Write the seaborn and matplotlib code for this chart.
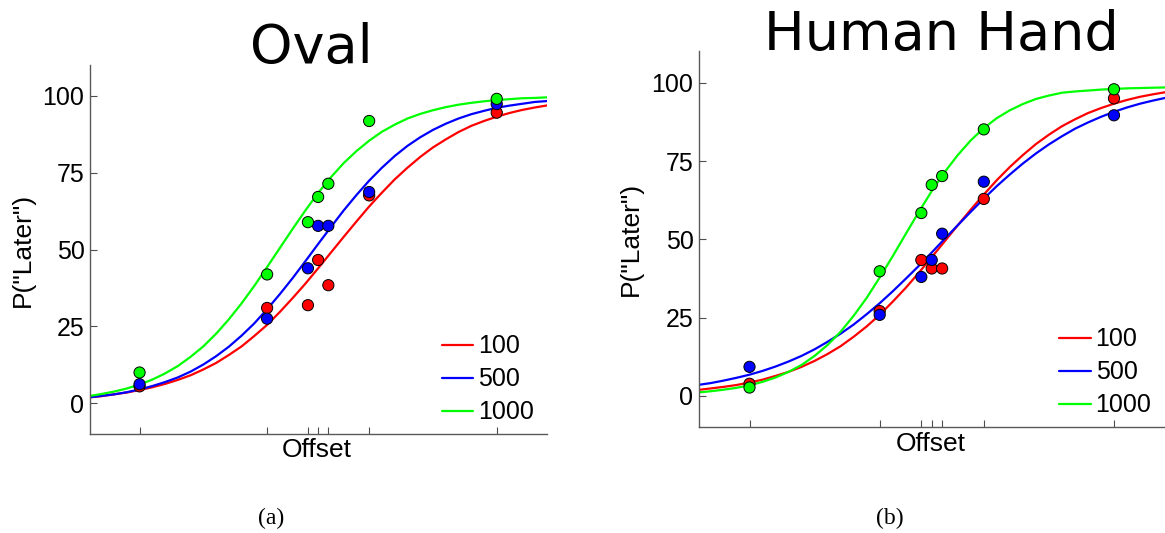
import numpy as np
import pandas as pd
import seaborn as sns
import matplotlib.pyplot as plt

# SOA conditions and the stimulus offsets (ms) that were tested
conditions = ["100", "500", "1000"]
offsets = [-350, -100, -20, 0, 20, 100, 350]

oval_pts_100 = [5.5, 31.0, 31.9, 46.6, 38.4, 67.6, 94.5]
oval_pts_500 = [6.2, 27.5, 43.9, 57.7, 57.7, 68.7, 97.3]
oval_pts_1000 = [10.0, 41.9, 58.9, 67.1, 71.4, 91.8, 99.0]
hand_pts_100 = [3.9, 27.1, 43.4, 40.7, 40.7, 62.9, 95.0]
hand_pts_500 = [9.3, 25.9, 38.0, 43.4, 51.8, 68.4, 89.6]
hand_pts_1000 = [2.7, 39.8, 58.4, 67.4, 70.2, 85.1, 97.9]

# fitted psychometric curves, every 25 ms from -450 to 450
curve_x = list(range(-450, 451, 25))
oval_fit_100 = [1.9, 2.3, 2.9, 3.5, 4.3, 5.2, 6.3, 7.6, 9.1, 11.0, 13.1, 15.7,
                18.5, 21.9, 25.5, 29.7, 34.2, 38.9, 43.9, 49.0, 54.1, 59.1,
                64.0, 68.5, 72.8, 76.6, 80.1, 83.2, 85.8, 88.2, 90.2, 91.8,
                93.2, 94.4, 95.4, 96.2, 96.9]
oval_fit_500 = [1.9, 2.4, 2.9, 3.6, 4.5, 5.6, 6.9, 8.4, 10.3, 12.6, 15.3, 18.4,
                22.0, 26.0, 30.6, 35.5, 40.7, 46.2, 51.8, 57.3, 62.7, 67.7,
                72.4, 76.6, 80.4, 83.7, 86.5, 88.9, 90.9, 92.6, 94.0, 95.1,
                96.1, 96.8, 97.4, 98.0, 98.3]
oval_fit_1000 = [2.3, 3.0, 3.8, 4.8, 6.1, 7.7, 9.7, 12.1, 15.1, 18.5, 22.6, 27.3,
                 32.5, 38.2, 44.3, 50.5, 56.7, 62.7, 68.4, 73.5, 78.1, 82.0,
                 85.4, 88.3, 90.6, 92.6, 94.1, 95.3, 96.3, 97.1, 97.7, 98.2,
                 98.6, 98.9, 99.2, 99.3, 99.5]
hand_fit_100 = [1.9, 2.4, 2.9, 3.5, 4.3, 5.2, 6.4, 7.7, 9.3, 11.2, 13.4, 15.9,
                18.9, 22.2, 25.9, 30.1, 34.5, 39.3, 44.3, 49.4, 54.5, 59.5,
                64.3, 68.9, 73.1, 76.9, 80.4, 83.4, 86.1, 88.3, 90.3, 91.9,
                93.3, 94.5, 95.5, 96.3, 97.0]
hand_fit_500 = [3.5, 4.1, 4.9, 5.8, 6.8, 8.0, 9.4, 11.0, 12.8, 14.9, 17.3, 19.9,
                22.8, 26.1, 29.6, 33.4, 37.4, 41.5, 45.8, 50.2, 54.5, 58.8,
                63.0, 67.0, 70.7, 74.2, 77.4, 80.3, 82.9, 85.3, 87.3, 89.1,
                90.7, 92.1, 93.3, 94.3, 95.2]
hand_fit_1000 = [1.1, 1.5, 2.0, 2.6, 3.4, 4.5, 5.9, 7.7, 9.9, 12.8, 16.3, 20.5,
                 25.6, 31.3, 37.8, 44.6, 51.7, 58.7, 65.4, 71.5, 76.9, 81.6,
                 85.5, 88.7, 91.2, 93.2, 94.8, 95.9, 96.8, 97.2, 97.5, 97.8,
                 98.0, 98.2, 98.3, 98.4, 98.5]

titles = ["Oval", "Human Hand"]
panel_tags = ["(a)", "(b)"]
yticks = [0, 25, 50, 75, 100]
colors = {"100": "#ff0000", "500": "#0000ff", "1000": "#00ff00"}


def long_table(xs, series):
    frames = []
    for cond, ys in zip(conditions, series):
        frames.append(pd.DataFrame({"offset": xs, "p": ys, "cond": cond}))
    return pd.concat(frames, ignore_index=True)


panels = [
    (long_table(curve_x, [oval_fit_100, oval_fit_500, oval_fit_1000]),
     long_table(offsets, [oval_pts_100, oval_pts_500, oval_pts_1000])),
    (long_table(curve_x, [hand_fit_100, hand_fit_500, hand_fit_1000]),
     long_table(offsets, [hand_pts_100, hand_pts_500, hand_pts_1000])),
]

sns.set_theme(style="white")
plt.rcParams["font.family"] = ["Liberation Sans", "DejaVu Sans"]
plt.rcParams["text.color"] = "black"
plt.rcParams["axes.labelcolor"] = "black"
plt.rcParams["xtick.color"] = "black"
plt.rcParams["ytick.color"] = "black"

fig = plt.figure(figsize=(11.65, 5.33), dpi=100)
axes = [fig.add_axes([0.0773, 0.1857, 0.392, 0.6923]),
        fig.add_axes([0.600, 0.1983, 0.400, 0.7053])]
legend_pos = [(0.743, 0.304), (0.7465, 0.299)]

for ax, (fit_df, pts_df), lpos in zip(axes, panels, legend_pos):
    sns.lineplot(data=fit_df, x="offset", y="p", hue="cond", hue_order=conditions,
                 palette=colors, estimator=None, linewidth=1.6, legend=False, ax=ax)
    sns.scatterplot(data=pts_df, x="offset", y="p", hue="cond", hue_order=conditions,
                    palette=colors, s=65, edgecolor="black", linewidth=0.7,
                    legend=False, zorder=3, ax=ax)
    ax.set_xlim(-447, 448)
    ax.set_ylim(-10, 110)
    ax.set_xticks(offsets)
    ax.set_xticklabels([])
    ax.set_yticks(yticks)
    ax.tick_params(bottom=True, left=True, direction="in", length=5, width=0.8,
                   color="0.3", labelcolor="black", labelsize=18, pad=4)
    for side in ["top", "right"]:
        ax.spines[side].set_visible(False)
    for side in ["left", "bottom"]:
        ax.spines[side].set_color("0.35")
        ax.spines[side].set_linewidth(1.0)
    ax.set_xlabel("Offset", fontsize=19)
    ax.set_ylabel('P("Later")', fontsize=19)
    ax.xaxis.set_label_coords(0.497, -0.012)
    ax.yaxis.set_label_coords(-0.12, 0.5)
    ax.legend(ax.lines[:3], conditions, frameon=False, fontsize=18,
              loc="upper left", bbox_to_anchor=lpos, borderpad=0,
              handlelength=1.25, handletextpad=0.2, labelspacing=0.36)

fig.text(311.5 / 1165, 1 - 62.5 / 533, titles[0], fontsize=39, family="DejaVu Sans",
         ha="center", va="baseline")
fig.text(941.5 / 1165, 1 - 49.5 / 533, titles[1], fontsize=39, family="DejaVu Sans",
         ha="center", va="baseline")
fig.text(271 / 1165, 1 - 518 / 533, panel_tags[0], fontsize=17, family="Liberation Serif",
         ha="center", va="center")
fig.text(890 / 1165, 1 - 518 / 533, panel_tags[1], fontsize=17, family="Liberation Serif",
         ha="center", va="center")

fig.savefig("out.png", dpi=100)
